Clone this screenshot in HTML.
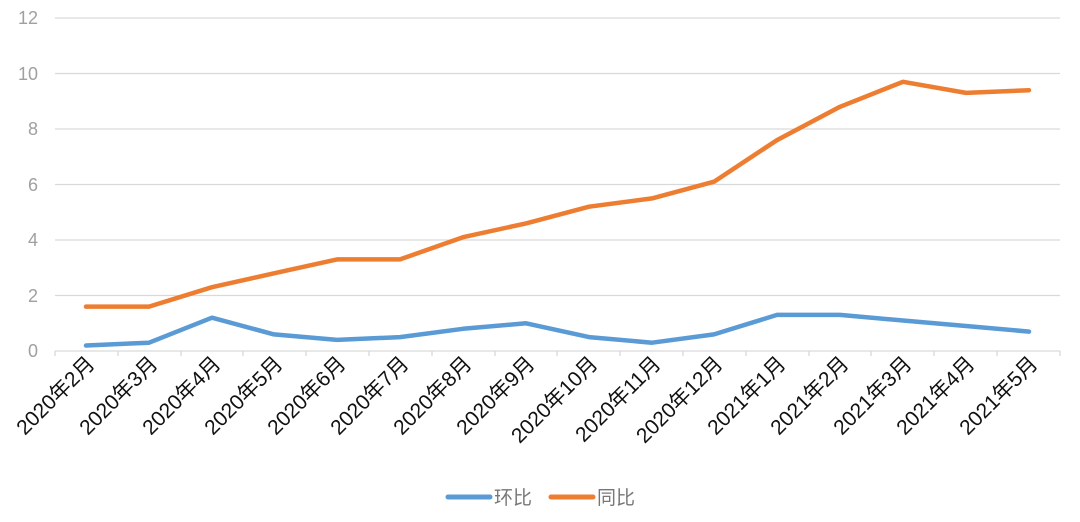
<!DOCTYPE html>
<html><head><meta charset="utf-8"><style>
body{margin:0;background:#fff;}
svg text{font-family:"Liberation Sans","Noto Sans CJK SC",sans-serif;}
</style></head><body>
<svg width="1080" height="517" viewBox="0 0 1080 517" xmlns="http://www.w3.org/2000/svg">
<g stroke="#d9d9d9" stroke-width="1.3">
<line x1="55" x2="1060" y1="18" y2="18"/>
<line x1="55" x2="1060" y1="73.5" y2="73.5"/>
<line x1="55" x2="1060" y1="129" y2="129"/>
<line x1="55" x2="1060" y1="184.5" y2="184.5"/>
<line x1="55" x2="1060" y1="240" y2="240"/>
<line x1="55" x2="1060" y1="295.5" y2="295.5"/>
<line x1="55" x2="1060" y1="351" y2="351"/>
<line x1="55" x2="55" y1="351" y2="356"/><line x1="118" x2="118" y1="351" y2="356"/><line x1="181" x2="181" y1="351" y2="356"/>
<line x1="243" x2="243" y1="351" y2="356"/><line x1="306" x2="306" y1="351" y2="356"/><line x1="369" x2="369" y1="351" y2="356"/>
<line x1="432" x2="432" y1="351" y2="356"/><line x1="495" x2="495" y1="351" y2="356"/><line x1="557" x2="557" y1="351" y2="356"/>
<line x1="620" x2="620" y1="351" y2="356"/><line x1="683" x2="683" y1="351" y2="356"/><line x1="746" x2="746" y1="351" y2="356"/>
<line x1="809" x2="809" y1="351" y2="356"/><line x1="871" x2="871" y1="351" y2="356"/><line x1="934" x2="934" y1="351" y2="356"/>
<line x1="997" x2="997" y1="351" y2="356"/><line x1="1060" x2="1060" y1="351" y2="356"/>
</g>
<g font-size="18" text-anchor="end" fill="#a0a0a0">
<text x="38" y="24">12</text><text x="38" y="80">10</text><text x="38" y="135">8</text>
<text x="38" y="191">6</text><text x="38" y="246">4</text><text x="38" y="302">2</text><text x="38" y="357">0</text>
</g>
<polyline fill="none" stroke="#5b9bd5" stroke-width="4.5" stroke-linejoin="round" stroke-linecap="round"
points="86,345.5 149,342.7 212,317.7 274,334.4 337,339.9 400,337.1 463,328.8 526,323.3 589,337.1 652,342.7 714,334.4 777,314.9 840,314.9 903,320.5 966,326 1029,331.6"/>
<polyline fill="none" stroke="#ed7d31" stroke-width="4.5" stroke-linejoin="round" stroke-linecap="round"
points="86,306.6 149,306.6 212,287.2 274,273.3 337,259.4 400,259.4 463,237.2 526,223.4 589,206.7 652,198.4 714,181.7 777,140.1 840,106.8 903,81.8 966,92.9 1029,90.2"/>
<g font-size="21" text-anchor="end" fill="#111">
<text transform="translate(96,365) rotate(-45)">2020年2月</text>
<text transform="translate(159,365) rotate(-45)">2020年3月</text>
<text transform="translate(222,365) rotate(-45)">2020年4月</text>
<text transform="translate(284,365) rotate(-45)">2020年5月</text>
<text transform="translate(347,365) rotate(-45)">2020年6月</text>
<text transform="translate(410,365) rotate(-45)">2020年7月</text>
<text transform="translate(473,365) rotate(-45)">2020年8月</text>
<text transform="translate(536,365) rotate(-45)">2020年9月</text>
<text transform="translate(599,365) rotate(-45)">2020年10月</text>
<text transform="translate(662,365) rotate(-45)">2020年11月</text>
<text transform="translate(724,365) rotate(-45)">2020年12月</text>
<text transform="translate(787,365) rotate(-45)">2021年1月</text>
<text transform="translate(850,365) rotate(-45)">2021年2月</text>
<text transform="translate(913,365) rotate(-45)">2021年3月</text>
<text transform="translate(976,365) rotate(-45)">2021年4月</text>
<text transform="translate(1039,365) rotate(-45)">2021年5月</text>
</g>
<line x1="448" x2="490" y1="497" y2="497" stroke="#5b9bd5" stroke-width="5" stroke-linecap="round"/>
<text x="494" y="504" font-size="19" fill="#777">环比</text>
<line x1="551" x2="593" y1="497" y2="497" stroke="#ed7d31" stroke-width="5" stroke-linecap="round"/>
<text x="597" y="504" font-size="19" fill="#777">同比</text>
</svg>
</body></html>
